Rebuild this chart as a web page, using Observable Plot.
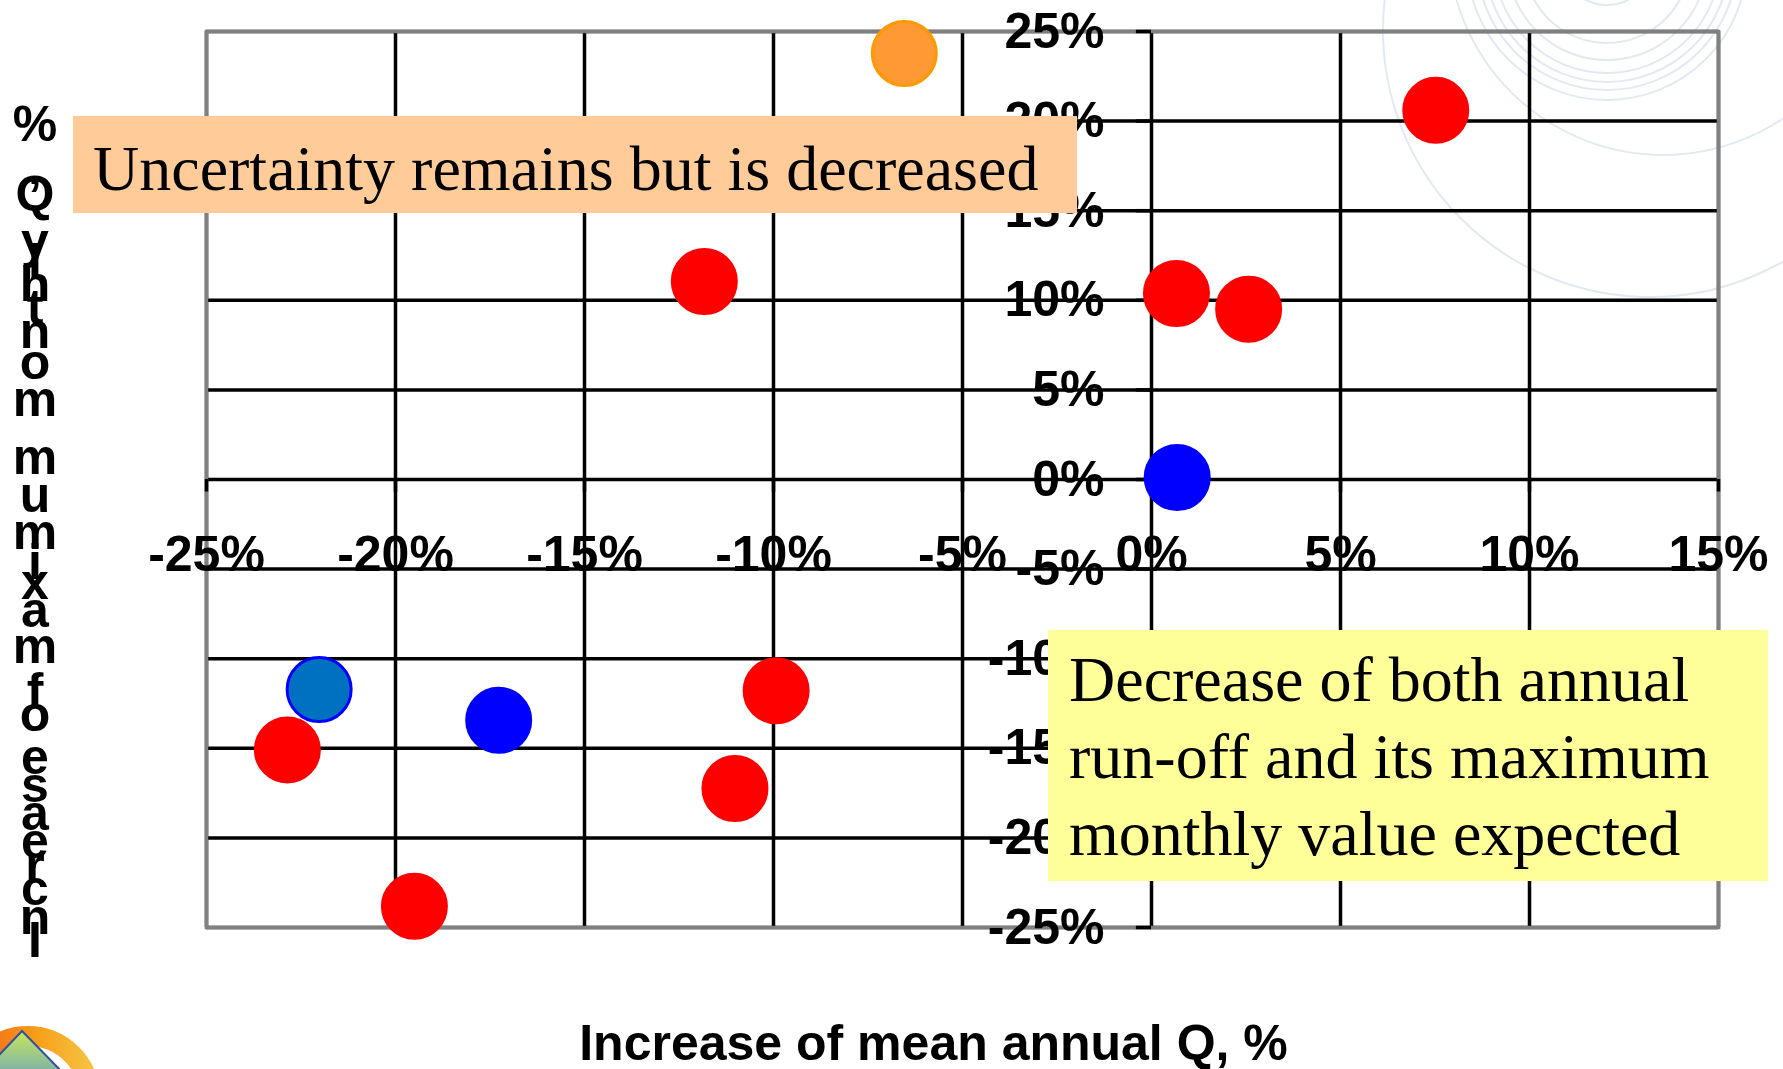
<!DOCTYPE html>
<html>
<head>
<meta charset="utf-8">
<script src="https://cdn.jsdelivr.net/npm/d3@7"></script>
<script src="https://cdn.jsdelivr.net/npm/@observablehq/plot@0.6"></script>
<style>
  html, body { margin: 0; padding: 0; background: #fff; }
  #chart { width: 1783px; height: 1069px; overflow: hidden; }
  #chart svg { display: block; }
</style>
</head>
<body>
<div id="chart"></div>
<script>
// ---- data ----
const meanAnnualQ = [-6.54, 7.52, -11.83, 0.66, 2.57, 0.68, -22.02, -22.86, -17.27, -9.93, -11.02, -19.50];
const maxMonthlyQ = [23.77, 20.60, 11.05, 10.38, 9.50, 0.11, -11.72, -15.09, -13.44, -11.79, -17.24, -23.82];
const pointGroup  = ["Orange", "Red", "Red", "Red", "Red", "Blue", "Steel blue", "Red", "Blue", "Red", "Red", "Red"];

const groupNames  = ["Red", "Blue", "Orange", "Steel blue"];
const groupFill   = ["#FF0000", "#0000FF", "#FF9933", "#0070C0"];
const groupStroke = ["#FF0000", "#0000FF", "#FF9900", "#0000FF"];

const xTicks = [-25, -20, -15, -10, -5, 0, 5, 10, 15];
const yTicks = [-25, -20, -15, -10, -5, 0, 5, 10, 15, 20, 25];
const tickLabel = v => v + "%";

const xTitle = "Increase of mean annual Q, %";
const yTitle = "Increase of maximum monthly Q, %";
const note1 = "Uncertainty remains but is decreased";
const note2 = ["Decrease of both annual", "run-off and its maximum", "monthly value expected"];

// ---- table ----
const rows = meanAnnualQ.map((x, i) => ({x, y: maxMonthlyQ[i], g: pointGroup[i]}));

const sans = "'Liberation Sans', Arial, sans-serif";
const serif = "'Liberation Serif', 'Times New Roman', serif";

const svg = Plot.plot({
  width: 1783,
  height: 1069,
  marginLeft: 206,
  marginRight: 65,
  marginTop: 31,
  marginBottom: 142,
  x: {domain: [-25, 15], axis: null},
  y: {domain: [-25, 25], axis: null},
  style: {background: "transparent", fontFamily: sans, color: "#000", overflow: "visible"},
  marks: [
    Plot.ruleX(xTicks, {stroke: "#000", strokeWidth: 3.5}),
    Plot.ruleY(yTicks, {stroke: "#000", strokeWidth: 3.5}),
    Plot.frame({stroke: "#808080", strokeWidth: 3.5}),
    Plot.ruleX(xTicks, {y1: 0, y2: -0.7, stroke: "#000", strokeWidth: 3.5}),
    Plot.ruleY(yTicks, {x1: 0, x2: -0.4, stroke: "#000", strokeWidth: 3.5}),
    ...groupNames.map((g, k) => Plot.dot(rows.filter(d => d.g === g), {
      x: "x", y: "y", r: 32, fill: groupFill[k], stroke: groupStroke[k], strokeWidth: 3
    })),
    Plot.text(xTicks, {x: d => d, y: 0, text: tickLabel, dy: 75, fontSize: 50, fontWeight: "bold", fill: "#000"}),
    Plot.text(yTicks, {x: 0, y: d => d, text: tickLabel, dx: -47, textAnchor: "end", fontSize: 50, fontWeight: "bold", fill: "#000"}),
    Plot.text([xTitle], {text: d => d, frameAnchor: "bottom", lineAnchor: "middle", dx: -29, dy: 116, fontSize: 50, fontWeight: "bold", fill: "#000"})
  ]
});
document.getElementById("chart").appendChild(svg);

const root = d3.select(svg);

// faint slide background arcs (behind everything)
const bg = root.insert("g", ":first-child").attr("fill", "none").attr("stroke", "#e3e9f0").attr("stroke-width", 2);
[45, 83, 100, 113, 122, 130, 140].forEach(r => bg.append("circle").attr("cx", 1607).attr("cy", -40).attr("r", r));
bg.append("circle").attr("cx", 1663).attr("cy", -60).attr("r", 215);
bg.append("circle").attr("cx", 1650).attr("cy", 30).attr("r", 267);

// stacked (upright) y-axis title
const ctx = document.createElement("canvas").getContext("2d");
ctx.font = "bold 50px 'Liberation Sans'";
let cum = 0;
const yChars = [];
for (const ch of yTitle) {
  const w = ctx.measureText(ch).width;
  if (ch !== " ") yChars.push({ch, c: cum + w / 2});
  cum += w;
}
root.append("g")
  .attr("font-family", sans).attr("font-weight", "bold").attr("font-size", 50)
  .attr("text-anchor", "middle").attr("fill", "#000")
  .selectAll("text").data(yChars).join("text")
  .attr("x", 35).attr("y", d => 946 - d.c).attr("dy", "0.35em")
  .text(d => d.ch);

// annotation boxes
const a1 = root.append("g").attr("text-anchor", "start");
a1.append("rect").attr("x", 73).attr("y", 116).attr("width", 1004).attr("height", 97).attr("fill", "#FFCC99");
a1.append("text").attr("x", 93).attr("y", 190).attr("text-anchor", "start")
  .attr("font-family", serif).attr("font-size", 64).attr("fill", "#000").text(note1);

const a2 = root.append("g").attr("text-anchor", "start");
a2.append("rect").attr("x", 1048).attr("y", 630).attr("width", 720).attr("height", 251).attr("fill", "#FFFF99");
a2.append("g").attr("font-family", serif).attr("font-size", 64).attr("fill", "#000").attr("text-anchor", "start")
  .selectAll("text").data(note2).join("text")
  .attr("x", 1069).attr("y", (d, i) => 701 + i * 77).text(d => d);

// small logo fragment at bottom-left
const defs = root.append("defs");
const lg = defs.append("linearGradient").attr("id", "ring").attr("x1", 0).attr("y1", 0).attr("x2", 1).attr("y2", 0);
lg.append("stop").attr("offset", "0%").attr("stop-color", "#f05a1a");
lg.append("stop").attr("offset", "60%").attr("stop-color", "#f7a21b");
lg.append("stop").attr("offset", "100%").attr("stop-color", "#f5c242");
const tg = defs.append("linearGradient").attr("id", "tri").attr("x1", 0).attr("y1", 0).attr("x2", 0).attr("y2", 1);
tg.append("stop").attr("offset", "0%").attr("stop-color", "#c9e65a");
tg.append("stop").attr("offset", "100%").attr("stop-color", "#6fa8b8");
const logo = root.append("g");
logo.append("circle").attr("cx", 28).attr("cy", 1098).attr("r", 62).attr("fill", "none").attr("stroke", "url(#ring)").attr("stroke-width", 20);
logo.append("path").attr("d", "M22,1031 L-25,1080 L70,1080 Z").attr("fill", "url(#tri)").attr("stroke", "#3050a0").attr("stroke-width", 2);
</script>
</body>
</html>
